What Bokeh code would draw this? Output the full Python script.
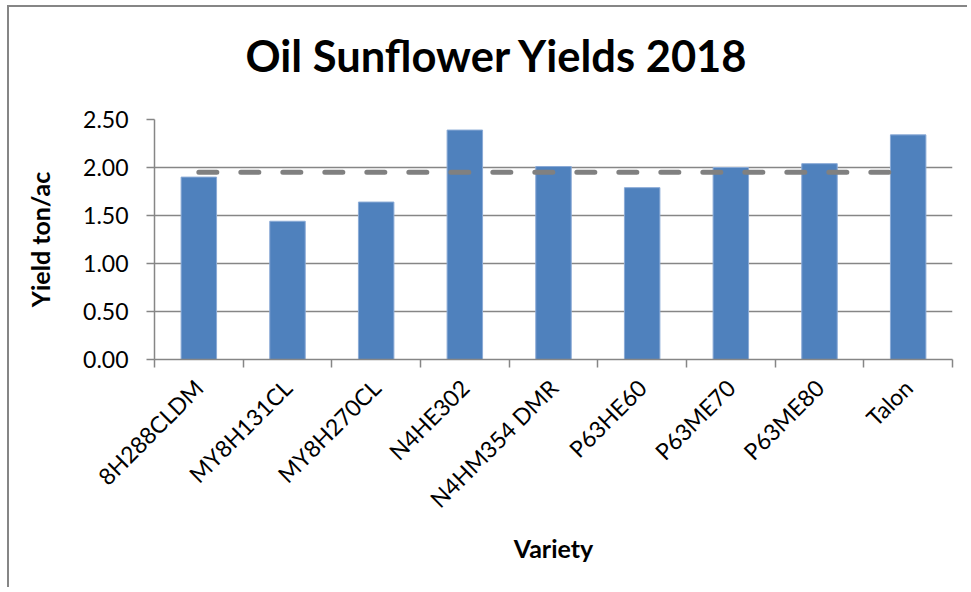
import math
from bokeh.plotting import figure
from bokeh.models import ColumnDataSource, FixedTicker, NumeralTickFormatter, Range1d, Title
from bokeh.embed import file_html
from bokeh.resources import INLINE

varieties = ["8H288CLDM", "MY8H131CL", "MY8H270CL", "N4HE302", "N4HM354 DMR",
             "P63HE60", "P63ME70", "P63ME80", "Talon"]
yields = [1.90, 1.44, 1.64, 2.39, 2.01, 1.79, 2.00, 2.04, 2.34]
average = [1.95, 1.95, 1.95, 1.95, 1.95, 1.95, 1.95, 1.95, 1.95]
y_ticks = [0.0, 0.5, 1.0, 1.5, 2.0, 2.5]

FONT = "Lato"
GRAY = "#868686"

xpos = [i + 0.5 for i in range(len(varieties))]
src = ColumnDataSource(dict(x=xpos, y=yields, avg=average, name=varieties))

p = figure(width=960, height=582, output_backend="svg", toolbar_location=None,
           x_range=Range1d(0, len(varieties)), y_range=Range1d(0, 2.5),
           min_border_left=145, min_border_right=17, min_border_top=112,
           min_border_bottom=230)
p.styles = {"border-left": "2px solid #868686", "border-top": "2px solid #868686",
            "margin-left": "7px", "margin-top": "5px"}

p.vbar(x="x", top="y", width=0.4, bottom=0, source=src,
       fill_color="#4F81BD", line_color="#8AAAD6", line_width=1)
p.line(x="x", y="avg", source=src, line_color="#808080", line_width=5,
       line_dash="18 24", line_cap="round")

# empty built-in title; spacer then real title stacked above the frame
p.title.text = ""
p.title.standoff = 0
p.add_layout(Title(text=" ", text_font_size="10px", standoff=26), "above")
p.add_layout(Title(text="Oil Sunflower Yields 2018", text_font=FONT,
                   text_font_style="bold", text_font_size="43.5px",
                   text_color="#000000", align="left", offset=91, standoff=0),
             "above")

p.outline_line_color = None
p.xgrid.visible = False
p.ygrid.grid_line_color = GRAY
p.ygrid.grid_line_width = 1.5
p.ygrid.ticker = FixedTicker(ticks=y_ticks)

xa = p.xaxis[0]
xa.ticker = FixedTicker(ticks=xpos, minor_ticks=list(range(len(varieties) + 1)))
xa.major_label_overrides = {x: n for x, n in zip(xpos, varieties)}
xa.major_label_orientation = math.pi / 4
xa.major_tick_out = 0
xa.major_tick_in = 0
xa.minor_tick_out = 8
xa.minor_tick_in = 0
xa.minor_tick_line_color = GRAY
xa.minor_tick_line_width = 1.5
xa.axis_line_color = GRAY
xa.axis_line_width = 1.5
xa.major_label_text_font = FONT
xa.major_label_text_font_size = "23px"
xa.major_label_text_color = "#000000"
xa.major_label_standoff = 16
xa.axis_label = "Variety"
xa.axis_label_text_font = FONT
xa.axis_label_text_font_style = "bold"
xa.axis_label_text_font_size = "25px"
xa.axis_label_text_color = "#000000"
xa.axis_label_standoff = 7

ya = p.yaxis[0]
ya.ticker = FixedTicker(ticks=y_ticks)
ya.formatter = NumeralTickFormatter(format="0.00")
ya.major_tick_out = 8
ya.major_tick_in = 0
ya.major_tick_line_color = GRAY
ya.major_tick_line_width = 1.5
ya.minor_tick_line_color = None
ya.axis_line_color = GRAY
ya.axis_line_width = 1.5
ya.major_label_text_font = FONT
ya.major_label_text_font_size = "23px"
ya.major_label_text_color = "#000000"
ya.major_label_standoff = 18
ya.axis_label = "Yield ton/ac"
ya.axis_label_text_font = FONT
ya.axis_label_text_font_style = "bold"
ya.axis_label_text_font_size = "25px"
ya.axis_label_text_color = "#000000"
ya.axis_label_standoff = 25

open("out.html", "w").write(file_html(p, INLINE))
